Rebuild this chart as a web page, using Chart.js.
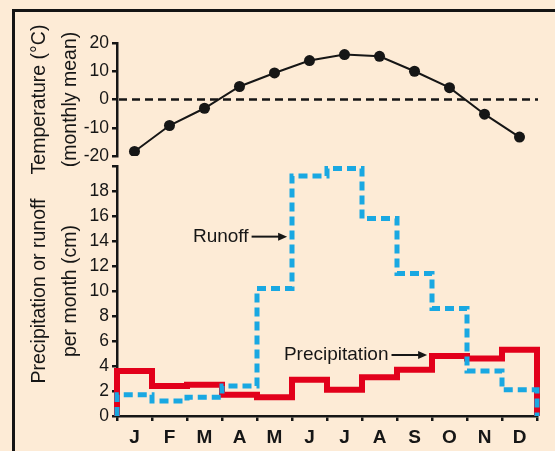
<!DOCTYPE html>
<html>
<head>
<meta charset="utf-8">
<script src="https://cdn.jsdelivr.net/npm/chart.js@4/dist/chart.umd.min.js"></script>
<style>
  html, body { margin: 0; padding: 0; background: #fdebd6; }
  #wrap { position: relative; width: 555px; height: 451px; overflow: hidden; background: #fdebd6; }
  #frame { position: absolute; left: 12px; top: 9px; width: 700px; height: 600px;
           border-left: 3px solid #141414; border-top: 3px solid #141414; }
  canvas { position: absolute; left: 0; }
  #temp { top: 0; }
  #water { top: 160px; }
</style>
</head>
<body>
<div id="wrap">
  <div id="frame"></div>
  <canvas id="temp" width="555" height="200"></canvas>
  <canvas id="water" width="555" height="291"></canvas>
</div>
<script>
// Monthly climate record
const months = ['J', 'F', 'M', 'A', 'M', 'J', 'J', 'A', 'S', 'O', 'N', 'D'];
const temperature = [-18.4, -9.2, -3.1, 4.6, 9.4, 13.8, 15.9, 15.3, 10.0, 4.2, -5.2, -13.3];   // °C
const precipitation = [3.6, 2.4, 2.5, 1.7, 1.5, 2.9, 2.1, 3.1, 3.7, 4.8, 4.6, 5.3];           // cm
const runoff = [1.7, 1.2, 1.5, 2.4, 10.2, 19.2, 19.8, 15.8, 11.4, 8.6, 3.6, 2.1];             // cm
const tempTicks = [-20, -10, 0, 10, 20];
const waterTicks = [0, 2, 4, 6, 8, 10, 12, 14, 16, 18, 20];
const waterTickLabels = ['0', '2', '4', '6', '8', '10', '12', '14', '16', '18', ''];

const FONT = "'Liberation Sans', Arial, Helvetica, sans-serif";
const INK = '#161616';
const RED = '#e2001b';
const BLUE = '#19a8e2';

// Monthly totals as a step outline: rises from zero at the start of January,
// holds each month's value across that month, falls back to zero after December.
function stepOutline(values) {
  const pts = [{ x: 0, y: 0 }];
  values.forEach((v, i) => pts.push({ x: i, y: v }));
  pts.push({ x: values.length, y: values[values.length - 1] });
  pts.push({ x: values.length, y: 0 });
  return pts;
}

const axisCommon = {
  border: { color: INK, width: 2.5 },
  grid: { drawOnChartArea: false, tickLength: 5, color: INK, lineWidth: 2.5 },
};

// Left axes get a fixed width and no extra label overhang above/below
function fixLeftAxis(s) {
  s.width = 117;
  s.paddingTop = 0;
  s.paddingBottom = 0;
}

// Dashed freezing line across the temperature panel
const freezingLine = {
  id: 'freezingLine',
  beforeDatasetsDraw(chart) {
    const { ctx, chartArea, scales } = chart;
    const y = scales.y.getPixelForValue(0);
    ctx.save();
    ctx.strokeStyle = INK;
    ctx.lineWidth = 2.5;
    ctx.setLineDash([8, 5]);
    ctx.beginPath();
    ctx.moveTo(chartArea.left + 2, y);
    ctx.lineTo(chartArea.right + 1, y);
    ctx.stroke();
    ctx.restore();
  }
};

// Text callouts with arrows pointing at the two series
const callouts = {
  id: 'callouts',
  afterDatasetsDraw(chart) {
    const { ctx, scales } = chart;
    const notes = [
      { text: 'Runoff', x: 2.17, y: 14.35, tip: 4.86 },
      { text: 'Precipitation', x: 4.77, y: 4.88, tip: 8.86 },
    ];
    ctx.save();
    ctx.font = '19px ' + FONT;
    ctx.fillStyle = INK;
    ctx.strokeStyle = INK;
    ctx.textBaseline = 'middle';
    ctx.textAlign = 'left';
    notes.forEach(n => {
      const x = scales.x2.getPixelForValue(n.x);
      const y = scales.y.getPixelForValue(n.y);
      const tipX = scales.x2.getPixelForValue(n.tip);
      ctx.fillText(n.text, x, y);
      const start = x + ctx.measureText(n.text).width + 3;
      ctx.lineWidth = 2;
      ctx.beginPath();
      ctx.moveTo(start, y);
      ctx.lineTo(tipX - 6, y);
      ctx.stroke();
      ctx.beginPath();
      ctx.moveTo(tipX, y);
      ctx.lineTo(tipX - 9, y - 4);
      ctx.lineTo(tipX - 9, y + 4);
      ctx.closePath();
      ctx.fill();
    });
    ctx.restore();
  }
};

new Chart(document.getElementById('temp'), {
  type: 'line',
  data: {
    labels: months,
    datasets: [{
      data: temperature,
      borderColor: INK,
      borderWidth: 2,
      pointRadius: 5.5,
      pointBackgroundColor: INK,
      pointBorderWidth: 0,
      tension: 0,
    }]
  },
  options: {
    responsive: false,
    animation: false,
    devicePixelRatio: 1,
    layout: { padding: { top: 43, bottom: 44, right: 18, left: 0 } },
    plugins: { legend: { display: false }, tooltip: { enabled: false } },
    scales: {
      x: { type: 'category', offset: true, display: false },
      y: {
        ...axisCommon,
        min: -20, max: 20,
        afterBuildTicks(s) { s.ticks = tempTicks.map(v => ({ value: v })); },
        afterFit: fixLeftAxis,
        ticks: { font: { family: FONT, size: 17.5 }, color: INK, padding: 3 },
        title: {
          display: true,
          text: ['Temperature (°C)', '(monthly mean)'],
          color: INK,
          font: { family: FONT, size: 19.5, lineHeight: 1.55 },
          padding: { top: 25, bottom: 0 },
        },
      },
    },
  },
  plugins: [freezingLine],
});

new Chart(document.getElementById('water'), {
  type: 'line',
  data: {
    labels: months,
    datasets: [
      {
        label: 'Runoff',
        data: stepOutline(runoff),
        xAxisID: 'x2',
        stepped: true,
        borderColor: BLUE,
        borderWidth: 5,
        borderDash: [9, 5],
        borderJoinStyle: 'miter',
        pointRadius: 0,
        clip: false,
      },
      {
        label: 'Precipitation',
        data: stepOutline(precipitation),
        xAxisID: 'x2',
        stepped: true,
        borderColor: RED,
        borderWidth: 6,
        borderJoinStyle: 'miter',
        pointRadius: 0,
        clip: false,
      },
    ]
  },
  options: {
    responsive: false,
    animation: false,
    devicePixelRatio: 1,
    layout: { padding: { top: 6, bottom: 0, right: 18, left: 0 } },
    plugins: { legend: { display: false }, tooltip: { enabled: false } },
    scales: {
      x: {
        ...axisCommon,
        type: 'category',
        offset: true,
        grid: { ...axisCommon.grid, offset: true },
        afterFit(s) { s.height = 35; s.paddingLeft = 0; s.paddingRight = 0; },
        ticks: { font: { family: FONT, size: 19, weight: 'bold' }, color: INK, padding: 5, maxRotation: 0, autoSkip: false },
      },
      x2: { type: 'linear', min: 0, max: 12, display: false },
      y: {
        ...axisCommon,
        min: 0, max: 20,
        afterBuildTicks(s) { s.ticks = waterTicks.map(v => ({ value: v })); },
        afterFit: fixLeftAxis,
        ticks: {
          font: { family: FONT, size: 17.5 }, color: INK, padding: 3,
          callback: (v, i) => waterTickLabels[i],
        },
        title: {
          display: true,
          text: ['Precipitation or runoff', 'per month (cm)'],
          color: INK,
          font: { family: FONT, size: 19.5, lineHeight: 1.55 },
          padding: { top: 25, bottom: 0 },
        },
      },
    },
  },
  plugins: [callouts],
});
</script>
</body>
</html>
